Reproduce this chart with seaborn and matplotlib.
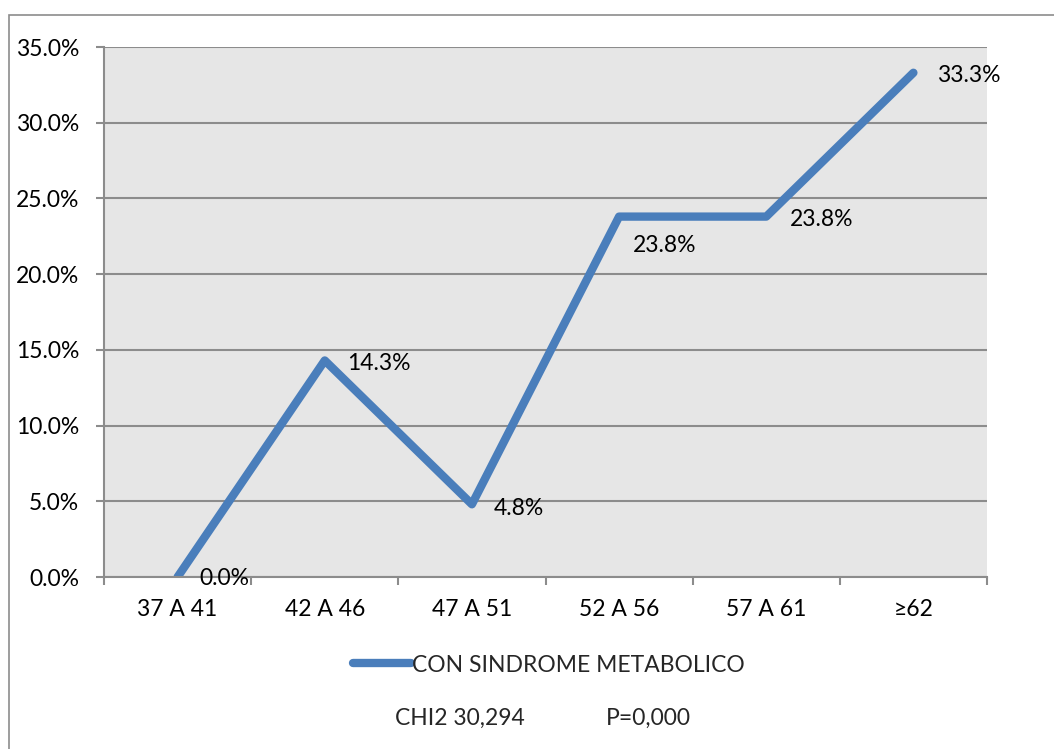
import matplotlib
matplotlib.use("Agg")
import matplotlib.pyplot as plt
import seaborn as sns
import pandas as pd
from matplotlib.patches import Rectangle
from matplotlib.ticker import FixedLocator, PercentFormatter

categories = ["37 A 41", "42 A 46", "47 A 51", "52 A 56", "57 A 61", "≥62"]
values = [0.0, 14.3, 4.8, 23.8, 23.8, 33.3]
series_name = "CON SINDROME METABOLICO"
y_ticks = [0, 5, 10, 15, 20, 25, 30, 35]
stats_left = "CHI2 30,294"
stats_right = "P=0,000"

sns.set_theme(style="white")
plt.rcParams["font.family"] = ["Lato", "DejaVu Sans"]

df = pd.DataFrame({"cat": categories, "val": values, "series": series_name})

W, H = 1054, 749
FS = 16.5
fig = plt.figure(figsize=(W / 100, H / 100), dpi=100)
ax = fig.add_axes([104 / W, 1 - 577 / H, 883 / W, 530 / H])
ax.set_facecolor("#e6e6e6")

blue = "#4a7ebb"
sns.lineplot(data=df, x="cat", y="val", hue="series", palette=[blue],
             linewidth=6, ax=ax, sort=False, solid_capstyle="round", legend=True)

ax.set_xlim(-0.5, len(categories) - 0.5)
ax.set_ylim(0, 35)
ax.set_yticks(y_ticks)
ax.yaxis.set_major_formatter(PercentFormatter(decimals=1))
ax.set_xticks(range(len(categories)))
ax.set_xticklabels(categories)
ax.xaxis.set_minor_locator(FixedLocator([i - 0.5 for i in range(len(categories) + 1)]))
ax.tick_params(axis="x", which="major", length=0, pad=16, labelsize=FS, colors="black")
ax.tick_params(axis="x", which="minor", length=6, width=1.5, color="#8c8c8c", bottom=True)
ax.tick_params(axis="y", which="major", length=6, width=1.5, color="#8c8c8c",
               left=True, labelsize=FS, pad=12, labelcolor="black")
ax.set_xlabel("")
ax.set_ylabel("")
ax.grid(axis="y", color="#8c8c8c", linewidth=1.5)
ax.set_axisbelow(True)
for s in ["top", "right"]:
    ax.spines[s].set_visible(False)
for s in ["left", "bottom"]:
    ax.spines[s].set_color("#8c8c8c")
    ax.spines[s].set_linewidth(1.5)

# data labels (offsets in points)
offsets = [(16, -1), (16, -2), (16, -3), (10, -21), (17, -2), (17, -2)]
for i, (v, off) in enumerate(zip(values, offsets)):
    ax.annotate(f"{v:.1f}%", (i, v), xytext=off, textcoords="offset points",
                ha="left", va="center", fontsize=FS, color="black", annotation_clip=False)

leg = ax.legend(loc="center", bbox_to_anchor=(549 / W, 1 - 665 / H),
                bbox_transform=fig.transFigure, frameon=False, fontsize=FS,
                handlelength=2.5, handletextpad=0.05)
for h in leg.get_lines():
    h.set_linewidth(6)
    h.set_solid_capstyle("round")

fig.text(395 / W, 1 - 718 / H, stats_left, ha="left", va="center", fontsize=FS)
fig.text(606 / W, 1 - 718 / H, stats_right, ha="left", va="center", fontsize=FS)

# chart frame
fig.patches.append(Rectangle((9 / W, -0.05), 1.2, 1 - 15 / H + 0.05, transform=fig.transFigure,
                             fill=False, edgecolor="#8c8c8c", linewidth=1.2))

fig.savefig("out.png", dpi=100)
